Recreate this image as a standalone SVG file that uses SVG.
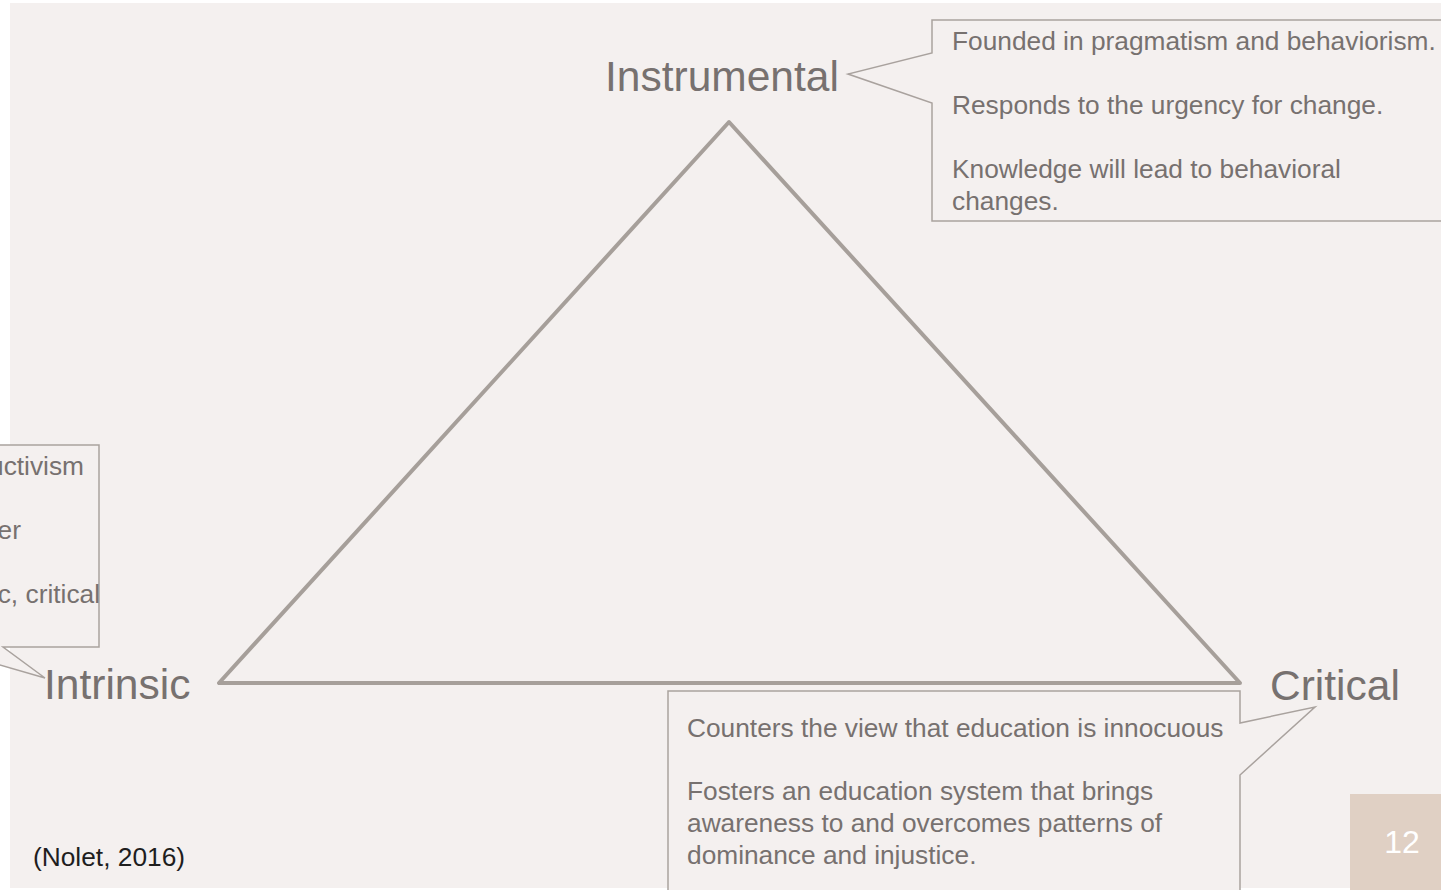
<svg xmlns="http://www.w3.org/2000/svg" width="1441" height="890" viewBox="0 0 1441 890">
<style>
.bg{fill:#f4f0ef}
.co{fill:#f4f0ef;stroke:#a9a29e;stroke-width:1.5}
.t{font-family:"Liberation Sans",Arial,sans-serif;font-size:26.3px;fill:#77716f}
.h{font-family:"Liberation Sans",Arial,sans-serif;font-size:42.5px;fill:#77716f}
</style>
<rect x="0" y="0" width="1441" height="890" fill="#ffffff"/>
<rect class="bg" x="10" y="3" width="1431" height="885"/>
<g id="connectors">
<polygon points="729,122 219,683 1240,683" fill="none" stroke="#a69f9a" stroke-width="4" stroke-linejoin="round"/>
</g>
<g id="instrumental">
<text class="h" x="605" y="91">Instrumental</text>
</g>
<g id="instrumental-callout">
<polygon class="co" points="932,20 1460,20 1460,221 932,221 932,103 848,74 932,53"/>
<text class="t" x="952" y="50">Founded in pragmatism and behaviorism.</text>
<text class="t" x="952" y="114">Responds to the urgency for change.</text>
<text class="t" x="952" y="178">Knowledge will lead to behavioral</text>
<text class="t" x="952" y="210">changes.</text>
</g>
<g id="intrinsic">
<text class="h" x="44" y="699">Intrinsic</text>
</g>
<g id="intrinsic-callout">
<polygon class="co" points="-400,445 99,445 99,647 3,647 45,678 -62,647 -400,647"/>
<text class="t" x="84" y="475" text-anchor="end">uctivism</text>
<text class="t" x="21" y="539" text-anchor="end">er</text>
<text class="t" x="100" y="603" text-anchor="end">c, critical</text>
</g>
<g id="critical">
<text class="h" x="1270" y="700">Critical</text>
</g>
<g id="critical-callout">
<polygon class="co" points="668,691 1240,691 1240,723 1315,707 1240,775 1240,900 668,900"/>
<text class="t" x="687" y="737">Counters the view that education is innocuous</text>
<text class="t" x="687" y="800">Fosters an education system that brings</text>
<text class="t" x="687" y="832">awareness to and overcomes patterns of</text>
<text class="t" x="687" y="864">dominance and injustice.</text>
</g>
<g id="citation">
<text x="33" y="866" font-family="Liberation Sans, Arial, sans-serif" font-size="26.3" fill="#1e1e1e">(Nolet, 2016)</text>
</g>
<g id="page-number">
<rect x="1350" y="794" width="91" height="96" fill="#e0d0c4"/>
<text x="1402" y="853" text-anchor="middle" font-family="Liberation Sans, Arial, sans-serif" font-size="32" fill="#ffffff">12</text>
</g>
</svg>
